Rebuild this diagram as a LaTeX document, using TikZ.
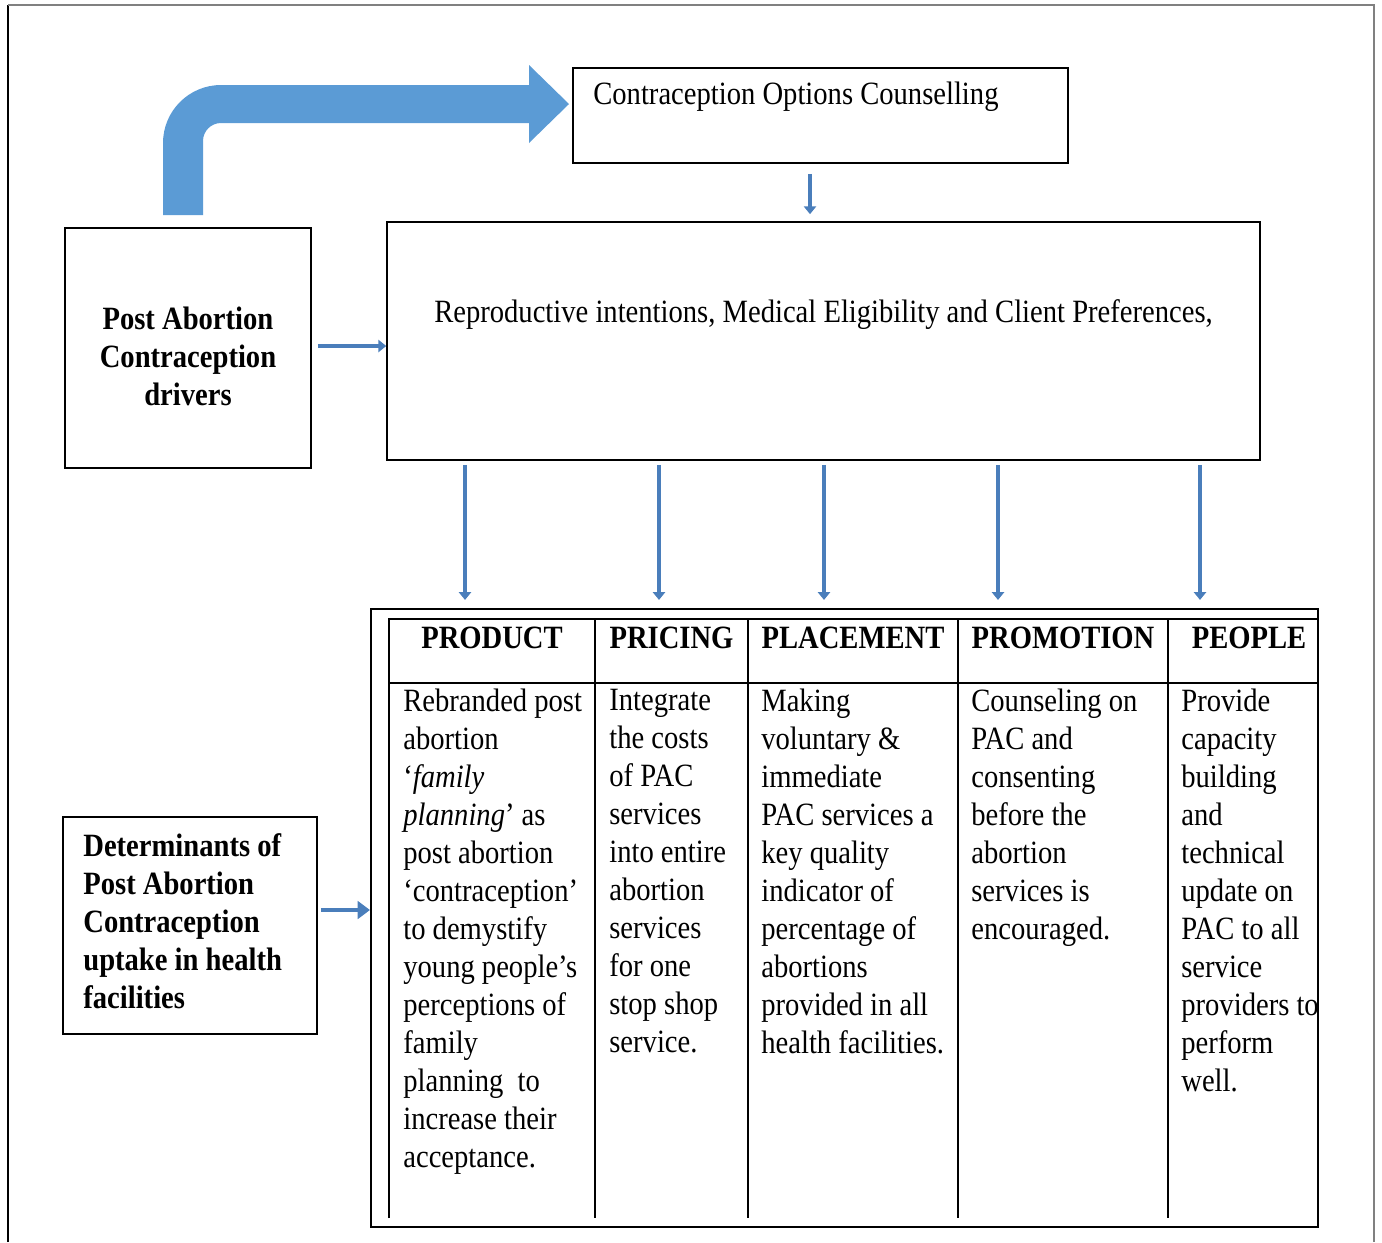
\documentclass[tikz,border=0pt]{standalone}
\usepackage{fontspec}
\setmainfont[FakeStretch=0.88]{Liberation Serif}
\usetikzlibrary{arrows.meta,calc,positioning}
\definecolor{pacblue}{HTML}{5B9BD5}
\definecolor{pacline}{HTML}{4A7EBB}
\newcommand{\pacfont}{\fontsize{18.5}{21.6}\selectfont}
\tikzset{
    block/.style = {draw, rectangle, line width=1pt, inner sep=0pt},
    txt/.style = {inner sep=0pt, font=\pacfont},
    cell/.style = {txt, anchor=north west, align=left},
    head/.style = {txt, font=\pacfont\bfseries},
    gridline/.style = {draw, line width=0.9pt},
    downarr/.style = {draw=pacline, line width=2pt, -{Triangle[width=7pt,length=4.5pt]}},
    sidearr/.style = {draw=pacline, line width=1.8pt, -{Triangle[width=7pt,length=4.5pt]}},
    fatarr/.style = {draw=pacline, line width=2.8pt, -{Triangle[width=10pt,length=7pt]}}
}

\begin{document}
\begin{tikzpicture}[x=0.02cm, y=-0.02cm]
    \useasboundingbox (0,0) rectangle (1382,1242);
    % page frame
    \draw[line width=1.2pt] (8,1242) -- (8,5);
    \draw[gray, line width=1.2pt] (8,5) -- (1374,5) -- (1374,1242);

    \node[block, minimum width=9.9cm, minimum height=1.9cm] (coc) at (820.5,115.5) {};
    \node[txt, anchor=base west] (coctxt) at (593,104) {Contraception Options Counselling};

    \node[block, minimum width=17.46cm, minimum height=4.76cm] (rmc) at (823.5,341) {};
    \node[txt, anchor=base] (rmctxt) at (823.5,322) {Reproductive intentions, Medical Eligibility and Client Preferences,};

    \node[block, minimum width=4.92cm, minimum height=4.8cm] (pacd) at (188,348) {};
    \node[txt, font=\pacfont\bfseries, align=center] (pacdtxt) at (188,356) {Post Abortion\\Contraception\\drivers};

    \node[block, minimum width=5.08cm, minimum height=4.34cm] (dpac) at (190,925.5) {};
    \node[txt, font=\pacfont\bfseries, align=left, anchor=west] (dpactxt) at (83,921) {Determinants of\\Post Abortion\\Contraception\\uptake in health\\facilities};

    % bent arrow
    \fill[pacblue] (163,215) -- (163,143) arc[start angle=180, end angle=90, radius=1.16cm]
        -- (529,85) -- (529,65) -- (569,104) -- (529,143) -- (529,123) -- (221,123)
        arc[start angle=90, end angle=180, radius=0.36cm] -- (203,215) -- cycle;

    \coordinate (cdown) at (810,0);
    \draw[downarr, shorten <=0.2cm, shorten >=0.14cm] (coc.south -| cdown) -- (rmc.north -| cdown);
    \draw[sidearr, shorten <=0.12cm] ([yshift=0.04cm]pacd.east) -- ([yshift=0.04cm]rmc.west |- pacd.east);

    % table
    \node[block, line width=1.3pt, minimum width=18.94cm, minimum height=12.36cm] (mix) at (844.5,918) {};
    \draw[gridline] (389,1218) -- (389,619) -- (mix.east |- 0,619);
    \draw[gridline] (389,683) -- (mix.east |- 0,683);
    \foreach \x in {595,748,958,1168}
        \draw[gridline] (\x,619) -- (\x,1218);

    \foreach \x in {465,659,824,998,1200}
        \draw[downarr, shorten <=0.08cm, shorten >=0.16cm] (rmc.south -| \x,0) -- (mix.north -| \x,0);
    \draw[fatarr, shorten <=0.06cm] ([yshift=0.31cm]dpac.east) -- ([yshift=0.31cm]dpac.east -| mix.west);

    \foreach \x/\h [count=\i] in {492/PRODUCT, 671.5/PRICING, 853/PLACEMENT, 1063/PROMOTION, 1249/PEOPLE}
        \node[head, anchor=base] (hd\i) at (\x,648) {\h};

    \node[cell] (col1) at (403,689) {Rebranded post\\abortion\\`\textit{family}\\\textit{planning}' as\\post abortion\\`contraception'\\to demystify\\young people's\\perceptions of\\family\\planning\ \ to\\increase their\\acceptance.};
    \node[cell] (col2) at (609,689) {Integrate\\the costs\\of PAC\\services\\into entire\\abortion\\services\\for one\\stop shop\\service.};
    \node[cell] (col3) at (761,689) {Making\\voluntary \&\\immediate\\PAC services a\\key quality\\indicator of\\percentage of\\abortions\\provided in all\\health facilities.};
    \node[cell] (col4) at (971,689) {Counseling on\\PAC and\\consenting\\before the\\abortion\\services is\\encouraged.};
    \node[cell] (col5) at (1181,689) {Provide\\capacity\\building\\and\\technical\\update on\\PAC to all\\service\\providers to\\perform\\well.};
\end{tikzpicture}
\end{document}
